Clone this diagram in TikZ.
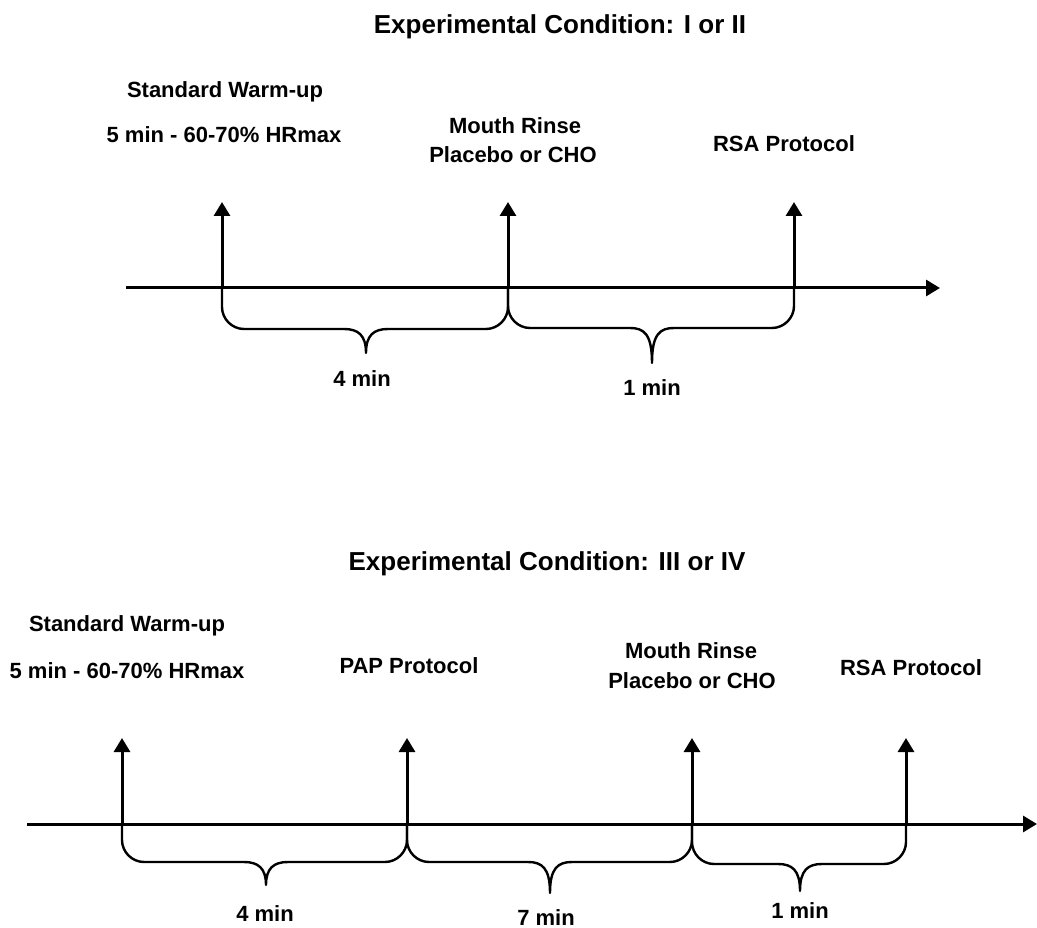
\documentclass[tikz,border=0pt]{standalone}
\usepackage{fontspec}
\setmainfont{Liberation Sans}
\usetikzlibrary{arrows.meta}
\newcommand\mybrace[6]{% xa, xb, xm, h, yt, y0
  \draw[bracel] (#1,#6) -- (#1,#4-22) .. controls (#1,#4-10) and (#1+10,#4) .. (#1+22,#4)
    -- (#3-22,#4) .. controls (#3-8,#4) and (#3,#4+6) .. (#3,#5)
    .. controls (#3,#4+6) and (#3+8,#4) .. (#3+22,#4)
    -- (#2-22,#4) .. controls (#2-10,#4) and (#2,#4-10) .. (#2,#4-22) -- (#2,#6);}
\begin{document}
\begin{tikzpicture}[x=1pt,y=-1pt,
  axisl/.style={line width=3pt,-{Triangle[width=16pt,length=14pt]}},
  uparrow/.style={line width=3pt,-{Triangle[width=16pt,length=14pt]}},
  bracel/.style={line width=2.4pt,line join=round},
  lbl/.style={font=\bfseries\fontsize{22}{26}\selectfont,anchor=base,inner sep=0pt},
  ttl/.style={font=\bfseries\fontsize{26}{30}\selectfont,anchor=base,inner sep=0pt}]
\useasboundingbox (0,0) rectangle (1037,928);
% ---------- top timeline ----------
\node[ttl] (title1) at (560,34) {Experimental Condition: I or II};
\coordinate (a1s) at (126,288);
\coordinate (a1e) at (940,288);
\draw[axisl] (a1s) -- (a1e);
\coordinate (p1) at (222,288); \coordinate (q1) at (222,202);
\coordinate (p2) at (508,288); \coordinate (q2) at (508,202);
\coordinate (p3) at (794,288); \coordinate (q3) at (794,202);
\draw[uparrow] (p1) -- (q1);
\draw[uparrow] (p2) -- (q2);
\draw[uparrow] (p3) -- (q3);
\mybrace{222}{508}{366}{329}{353}{288}
\mybrace{508}{794}{652}{328}{363}{288}
\node[lbl] (sw1) at (225,98) {Standard Warm-up};
\node[lbl] (hr1) at (224,143) {5 min - 60-70\% HRmax};
\node[lbl] (mr1) at (515,134) {Mouth Rinse};
\node[lbl] (pc1) at (513,163) {Placebo or CHO};
\node[lbl] (rsa1) at (784,152) {RSA Protocol};
\node[lbl] (m41) at (362,386) {4 min};
\node[lbl] (m11) at (652,395) {1 min};
% ---------- bottom timeline ----------
\node[ttl] (title2) at (547,570) {Experimental Condition: III or IV};
\coordinate (a2s) at (27,824);
\coordinate (a2e) at (1037,824);
\draw[axisl] (a2s) -- (a2e);
\coordinate (r1) at (122,824); \coordinate (s1) at (122,738);
\coordinate (r2) at (407,824); \coordinate (s2) at (407,738);
\coordinate (r3) at (692,824); \coordinate (s3) at (692,738);
\coordinate (r4) at (906,824); \coordinate (s4) at (906,738);
\draw[uparrow] (r1) -- (s1);
\draw[uparrow] (r2) -- (s2);
\draw[uparrow] (r3) -- (s3);
\draw[uparrow] (r4) -- (s4);
\mybrace{122}{407}{266}{862}{885}{824}
\mybrace{407}{692}{550}{862}{893}{824}
\mybrace{692}{906}{800}{864}{891}{824}
\node[lbl] (sw2) at (127,631) {Standard Warm-up};
\node[lbl] (hr2) at (127,678) {5 min - 60-70\% HRmax};
\node[lbl] (pap2) at (409,673) {PAP Protocol};
\node[lbl] (mr2) at (691,658) {Mouth Rinse};
\node[lbl] (pc2) at (692,688) {Placebo or CHO};
\node[lbl] (rsa2) at (911,675) {RSA Protocol};
\node[lbl] (m42) at (265,921) {4 min};
\node[lbl] (m72) at (546,925) {7 min};
\node[lbl] (m12) at (800,918) {1 min};
\end{tikzpicture}
\end{document}
